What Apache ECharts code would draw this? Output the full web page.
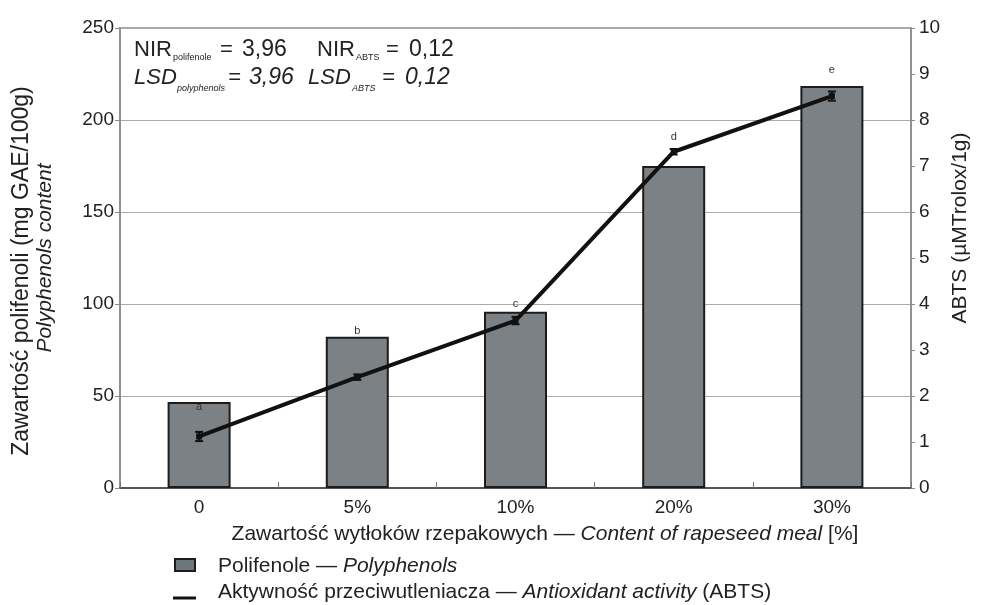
<!DOCTYPE html>
<html>
<head>
<meta charset="utf-8">
<script src="https://cdn.jsdelivr.net/npm/echarts@6/dist/echarts.min.js"></script>
<style>html,body{margin:0;padding:0;background:#fff}#c{width:983px;height:605px}</style>
</head>
<body>
<div id="c"></div>
<script>
// ---- data ----
const categories = ['0', '5%', '10%', '20%', '30%'];
const polyphenols = [46.7, 82.2, 95.8, 175.0, 218.5];
const abts = [1.12, 2.41, 3.64, 7.31, 8.52];
const abtsErr = [0.10, 0.06, 0.08, 0.06, 0.10];
const letters = ['a', 'b', 'c', 'd', 'e'];
const leftTicks = [0, 50, 100, 150, 200, 250];
const rightTicks = [0, 1, 2, 3, 4, 5, 6, 7, 8, 9, 10];

// ---- style ----
const FONT = 'Liberation Sans, Arial, sans-serif';
const letterDy = [10, 0, -2.5, -23.5, -10.5];

const chart = echarts.init(document.getElementById('c'), null, {renderer: 'canvas'});

const errorSeries = {
  type: 'custom',
  yAxisIndex: 1,
  z: 5,
  silent: true,
  data: abts.map((v, i) => [i, v, abtsErr[i]]),
  renderItem: function (params, api) {
    const x = api.value(0), y = api.value(1), e = api.value(2);
    const hi = api.coord([x, y + e]);
    const lo = api.coord([x, y - e]);
    const w = 4;
    const st = {stroke: '#111', lineWidth: 2};
    return {
      type: 'group',
      children: [
        {type: 'line', shape: {x1: hi[0], y1: hi[1], x2: lo[0], y2: lo[1]}, style: st},
        {type: 'line', shape: {x1: hi[0] - w, y1: hi[1], x2: hi[0] + w, y2: hi[1]}, style: st},
        {type: 'line', shape: {x1: lo[0] - w, y1: lo[1], x2: lo[0] + w, y2: lo[1]}, style: st}
      ]
    };
  }
};

function seg(text, x, y, size, italic) {
  return {type: 'text', x: x, y: y, z: 10,
    style: {text: text, font: (italic ? 'italic ' : '') + size + 'px ' + FONT, fill: '#222',
      textAlign: 'left', textVerticalAlign: 'middle'}};
}

const annotation = [
  seg('NIR', 134, 50, 22, false),
  seg('polifenole', 173, 58, 9, false),
  seg('=', 220, 50, 22, false),
  seg('3,96', 242, 50, 23, false),
  seg('NIR', 317, 50, 22, false),
  seg('ABTS', 356, 58, 9, false),
  seg('=', 386, 50, 22, false),
  seg('0,12', 409, 50, 23, false),
  seg('LSD', 134, 78, 22, true),
  seg('polyphenols', 177, 88, 9, true),
  seg('=', 228, 78, 22, true),
  seg('3,96', 249, 78, 23, true),
  seg('LSD', 308, 78, 22, true),
  seg('ABTS', 352, 88, 9, true),
  seg('=', 382, 78, 22, true),
  seg('0,12', 405, 78, 23, true)
];

const option = {
  animation: false,
  backgroundColor: '#fff',
  textStyle: {fontFamily: FONT},
  grid: {
    left: 120, right: 72, top: 28, bottom: 117,
    show: true, borderColor: '#8a8a8a', borderWidth: 1.5, backgroundColor: 'transparent'
  },
  xAxis: {
    type: 'category',
    data: categories,
    boundaryGap: true,
    axisLine: {lineStyle: {color: '#555', width: 2}},
    axisTick: {show: true, inside: true, length: 6, lineStyle: {color: '#777'}},
    axisLabel: {fontFamily: FONT, fontSize: 19, color: '#222', margin: 10}
  },
  yAxis: [
    {
      type: 'value', min: leftTicks[0], max: leftTicks[leftTicks.length - 1], interval: 50,
      axisLine: {show: true, lineStyle: {color: '#8a8a8a', width: 1.5}},
      axisTick: {show: true, length: 5, lineStyle: {color: '#8a8a8a'}},
      axisLabel: {fontFamily: FONT, fontSize: 19, color: '#222', margin: 6},
      splitLine: {show: true, lineStyle: {color: '#ababab', width: 1}}
    },
    {
      type: 'value', min: rightTicks[0], max: rightTicks[rightTicks.length - 1], interval: 1,
      position: 'right',
      axisLine: {show: true, lineStyle: {color: '#8a8a8a', width: 1.5}},
      axisTick: {show: true, length: 4, lineStyle: {color: '#8a8a8a'}},
      axisLabel: {fontFamily: FONT, fontSize: 19, color: '#222', margin: 8},
      splitLine: {show: false}
    }
  ],
  series: [
    {
      name: 'Polifenole — Polyphenols',
      type: 'bar',
      barWidth: 63,
      yAxisIndex: 0,
      z: 2,
      itemStyle: {color: '#7c8186', borderColor: '#1c1c1c', borderWidth: 2},
      label: {
        show: true, position: 'top', distance: 0,
        fontFamily: FONT, fontSize: 11, color: '#333',
        formatter: p => letters[p.dataIndex]
      },
      data: polyphenols.map((v, i) => ({value: v, label: {offset: [0, letterDy[i]]}}))
    },
    {
      name: 'Aktywność przeciwutleniacza — Antioxidant activity (ABTS)',
      type: 'line',
      yAxisIndex: 1,
      z: 4,
      symbol: 'rect',
      symbolSize: 6,
      itemStyle: {color: '#111'},
      lineStyle: {color: '#111', width: 4},
      data: abts
    },
    errorSeries
  ],
  graphic: annotation.concat([
    // left axis title
    {type: 'text', x: 22, y: 271, rotation: Math.PI / 2, z: 10,
      style: {text: 'Zawartość polifenoli (mg GAE/100g)', font: '23px ' + FONT, fill: '#222', textAlign: 'center', textVerticalAlign: 'middle'}},
    {type: 'text', x: 45, y: 258, rotation: Math.PI / 2, z: 10,
      style: {text: 'Polyphenols content', font: 'italic 21px ' + FONT, fill: '#222', textAlign: 'center', textVerticalAlign: 'middle'}},
    // right axis title
    {type: 'text', x: 960, y: 228, rotation: Math.PI / 2, z: 10,
      style: {text: 'ABTS (µMTrolox/1g)', font: '21px ' + FONT, fill: '#222', textAlign: 'center', textVerticalAlign: 'middle'}},
    // x axis title
    {type: 'text', x: 545, y: 534, z: 10,
      style: {
        text: '{n|Zawartość wytłoków rzepakowych — }{i|Content of rapeseed meal}{n| [%]}',
        textAlign: 'center', textVerticalAlign: 'middle',
        rich: {
          n: {fontFamily: FONT, fontSize: 21, fill: '#222'},
          i: {fontFamily: FONT, fontSize: 21, fontStyle: 'italic', fill: '#222'}
        }
      }},
    // legend
    {type: 'rect', shape: {x: 175, y: 559, width: 20, height: 12}, z: 10,
      style: {fill: '#6c767d', stroke: '#1c1c1c', lineWidth: 2}},
    {type: 'text', x: 218, y: 566, z: 10,
      style: {
        text: '{n|Polifenole — }{i|Polyphenols}',
        textAlign: 'left', textVerticalAlign: 'middle',
        rich: {
          n: {fontFamily: FONT, fontSize: 21, fill: '#222'},
          i: {fontFamily: FONT, fontSize: 21, fontStyle: 'italic', fill: '#222'}
        }
      }},
    {type: 'line', shape: {x1: 173, y1: 598, x2: 196, y2: 598}, z: 10,
      style: {stroke: '#111', lineWidth: 3}},
    {type: 'text', x: 218, y: 592, z: 10,
      style: {
        text: '{n|Aktywność przeciwutleniacza — }{i|Antioxidant activity}{n| (ABTS)}',
        textAlign: 'left', textVerticalAlign: 'middle',
        rich: {
          n: {fontFamily: FONT, fontSize: 21, fill: '#222'},
          i: {fontFamily: FONT, fontSize: 21, fontStyle: 'italic', fill: '#222'}
        }
      }}
  ])
};
chart.setOption(option);
</script>
</body>
</html>
